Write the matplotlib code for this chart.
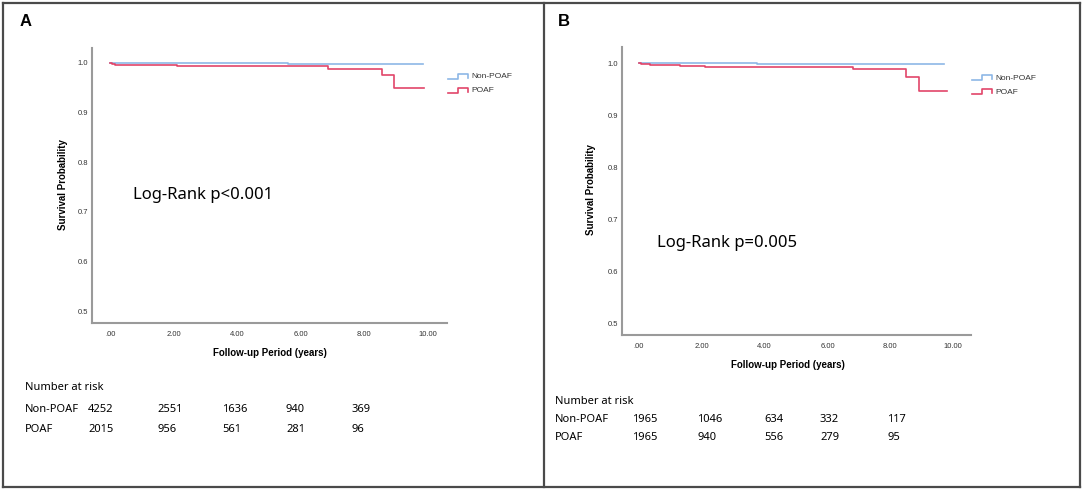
import matplotlib
matplotlib.use("Agg")
import matplotlib.pyplot as plt
from matplotlib.lines import Line2D

W, H = 1084, 491

# --- data ---
groups = ["Non-POAF", "POAF"]

a_non_t = [0, 0.1, 3.7, 4.5, 5.6, 9.85]
a_non_s = [1.0, 0.9995, 0.9992, 0.999, 0.9987, 0.9987]
a_poaf_t = [0, 0.05, 0.15, 0.66, 2.1, 6.86, 8.55, 8.93, 9.87]
a_poaf_s = [1.0, 0.998, 0.9967, 0.9955, 0.9933, 0.988, 0.9747, 0.9487, 0.9487]

b_non_t = [0, 0.1, 3.75, 9.7]
b_non_s = [1.0, 0.9995, 0.999, 0.999]
b_poaf_t = [0, 0.05, 0.35, 1.3, 2.1, 6.8, 8.5, 8.9, 9.8]
b_poaf_s = [1.0, 0.998, 0.9967, 0.9953, 0.9933, 0.988, 0.9733, 0.9467, 0.9467]

a_risk_non = [4252, 2551, 1636, 940, 369]
a_risk_poaf = [2015, 956, 561, 281, 96]
b_risk_non = [1965, 1046, 634, 332, 117]
b_risk_poaf = [1965, 940, 556, 279, 95]

a_pval = "Log-Rank p<0.001"
b_pval = "Log-Rank p=0.005"

yticks = [0.5, 0.6, 0.7, 0.8, 0.9, 1.0]
xticks = [0, 2, 4, 6, 8, 10]
xticklabels = [".00", "2.00", "4.00", "6.00", "8.00", "10.00"]

BLUE = "#8db7e6"
RED = "#e2456a"
TEXT_FONT = ["Noto Sans", "DejaVu Sans"]
AX_FONT = ["Liberation Sans", "DejaVu Sans"]


def fx(x):
    return x / W


def fy(y):
    return 1 - y / H


def px_axes(fig, left, top, right, bottom):
    return fig.add_axes([fx(left), fy(bottom), (right - left) / W, (bottom - top) / H])


def draw_panel(fig, box, xlim, ylim, non, poaf, pval, pval_xy, ylab_xy, xlab_xy,
               leg_xy, letter_xy, letter, risk_rows_y, risk_rows, risk_cols, risk_label_x):
    ax = px_axes(fig, *box)
    ax.step(non[0], non[1], where="post", color=BLUE, lw=1.2)
    ax.step(poaf[0], poaf[1], where="post", color=RED, lw=1.2)
    ax.set_xlim(*xlim)
    ax.set_ylim(*ylim)
    ax.set_yticks(yticks)
    ax.set_yticklabels([f"{v:.1f}" for v in yticks], fontsize=5.5, family=AX_FONT, color="#333333")
    ax.set_xticks(xticks)
    ax.set_xticklabels(xticklabels, fontsize=5.5, family=AX_FONT, color="#333333")
    ax.tick_params(length=0, pad=3)
    ax.tick_params(axis="x", pad=6)
    for s in ["top", "right"]:
        ax.spines[s].set_visible(False)
    for s in ["left", "bottom"]:
        ax.spines[s].set_color("#9a9a9a")
        ax.spines[s].set_linewidth(1.5)

    fig.text(fx(pval_xy[0]), fy(pval_xy[1]), pval, fontsize=12, family=TEXT_FONT,
             ha="left", va="center")
    fig.text(fx(ylab_xy[0]), fy(ylab_xy[1]), "Survival Probability", fontsize=7, fontweight="bold",
             family=AX_FONT, rotation=90, ha="center", va="center")
    fig.text(fx(xlab_xy[0]), fy(xlab_xy[1]), "Follow-up Period (years)", fontsize=7, fontweight="bold",
             family=AX_FONT, ha="center", va="center")
    fig.text(fx(letter_xy[0]), fy(letter_xy[1]), letter, fontsize=12, fontweight="bold",
             family=AX_FONT, ha="left", va="center")

    # legend drawn as small step glyphs
    lx, ly = leg_xy
    for i, (name, col) in enumerate(zip(groups, [BLUE, RED])):
        yy = ly + i * 14
        xs = [lx, lx + 10, lx + 10, lx + 20, lx + 20]
        ys = [yy + 2, yy + 2, yy - 3, yy - 3, yy + 1]
        fig.add_artist(Line2D([fx(v) for v in xs], [fy(v) for v in ys], color=col, lw=1.2))
        fig.text(fx(lx + 23), fy(yy), name, fontsize=6, family=AX_FONT, ha="left", va="center",
                 color="#333333")

    # number at risk table
    fig.text(fx(risk_label_x), fy(risk_rows_y[0]), "Number at risk", fontsize=8, family=TEXT_FONT,
             ha="left", va="center")
    for yy, name, vals in zip(risk_rows_y[1:], groups, risk_rows):
        fig.text(fx(risk_label_x), fy(yy), name, fontsize=8, family=TEXT_FONT, ha="left", va="center")
        for cx, v in zip(risk_cols, vals):
            fig.text(fx(cx), fy(yy), str(v), fontsize=8, family=TEXT_FONT, ha="left", va="center")
    return ax


fig = plt.figure(figsize=(W / 100, H / 100), dpi=100)

draw_panel(fig, (92, 48, 447, 323), (-0.57, 10.6), (0.476, 1.030),
           (a_non_t, a_non_s), (a_poaf_t, a_poaf_s), a_pval,
           (133, 195), (63, 185), (270, 353), (448, 77), (20, 21), "A",
           [388, 410, 430], [a_risk_non, a_risk_poaf], [88, 157, 222, 286, 352], 25)

draw_panel(fig, (622, 47, 971, 335), (-0.54, 10.57), (0.477, 1.031),
           (b_non_t, b_non_s), (b_poaf_t, b_poaf_s), b_pval,
           (657, 243), (591, 190), (788, 365), (972, 78), (558, 21), "B",
           [402, 420, 438], [b_risk_non, b_risk_poaf], [632, 697, 764, 820, 887], 555)

# panel frames
frame = dict(color="#4a4a4a", lw=1.6)
fig.add_artist(Line2D([fx(3), fx(1080)], [fy(3), fy(3)], **frame))
fig.add_artist(Line2D([fx(3), fx(1080)], [fy(487), fy(487)], **frame))
fig.add_artist(Line2D([fx(3), fx(3)], [fy(3), fy(487)], **frame))
fig.add_artist(Line2D([fx(544), fx(544)], [fy(3), fy(487)], **frame))
fig.add_artist(Line2D([fx(1080), fx(1080)], [fy(3), fy(487)], **frame))

fig.savefig("out.png", dpi=100)
